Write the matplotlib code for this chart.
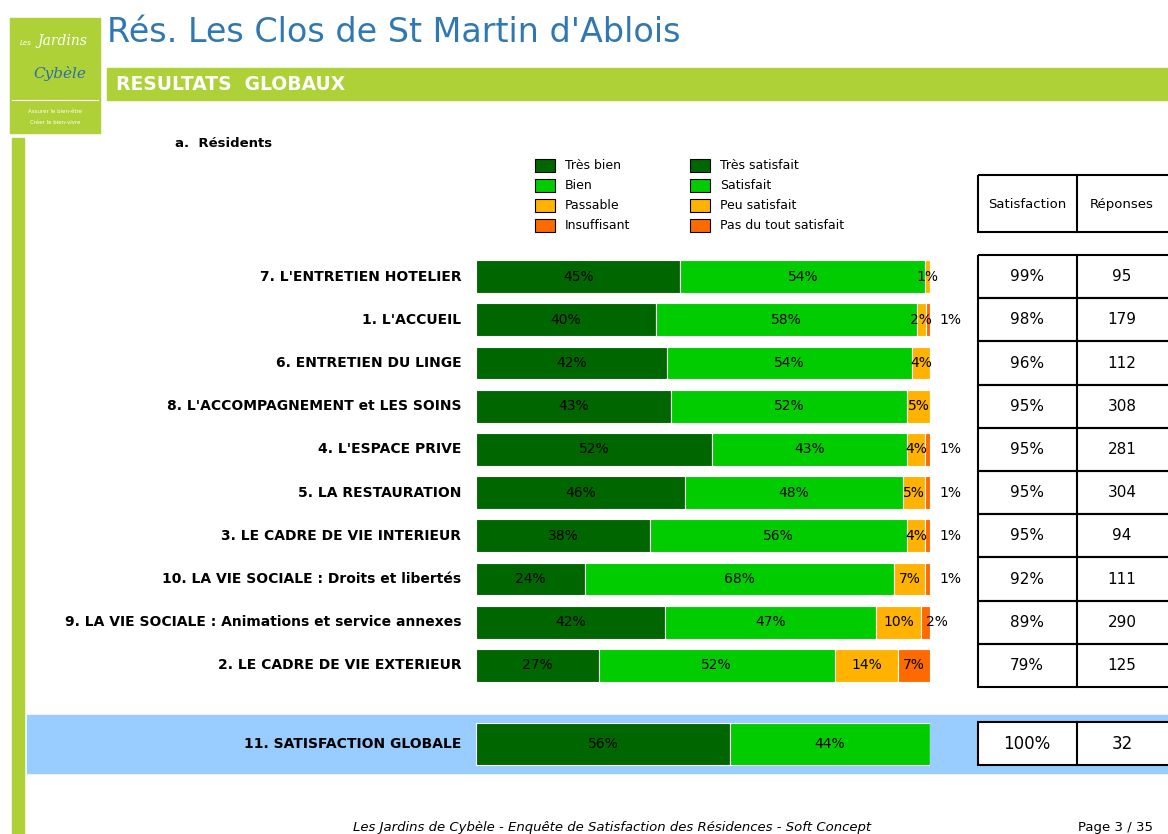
import matplotlib
matplotlib.use("Agg")
import matplotlib.pyplot as plt
from matplotlib.patches import Rectangle
import numpy as np

# data
categories = [
    "7. L'ENTRETIEN HOTELIER",
    "1. L'ACCUEIL",
    "6. ENTRETIEN DU LINGE",
    "8. L'ACCOMPAGNEMENT et LES SOINS",
    "4. L'ESPACE PRIVE",
    "5. LA RESTAURATION",
    "3. LE CADRE DE VIE INTERIEUR",
    "10. LA VIE SOCIALE : Droits et libertés",
    "9. LA VIE SOCIALE : Animations et service annexes",
    "2. LE CADRE DE VIE EXTERIEUR",
]
tres_bien = [45, 40, 42, 43, 52, 46, 38, 24, 42, 27]
bien = [54, 58, 54, 52, 43, 48, 56, 68, 47, 52]
passable = [1, 2, 4, 5, 4, 5, 4, 7, 10, 14]
insuffisant = [0, 1, 0, 0, 1, 1, 1, 1, 2, 7]
satisfaction = ["99%", "98%", "96%", "95%", "95%", "95%", "95%", "92%", "89%", "79%"]
reponses = ["95", "179", "112", "308", "281", "304", "94", "111", "290", "125"]

global_label = "11. SATISFACTION GLOBALE"
global_values = [56, 44, 0, 0]
global_sat = "100%"
global_rep = "32"

legend_left = ["Très bien", "Bien", "Passable", "Insuffisant"]
legend_right = ["Très satisfait", "Satisfait", "Peu satisfait", "Pas du tout satisfait"]
colors = ["#006600", "#00cc00", "#ffb300", "#ff6a00"]

W, H = 1168, 834
fig = plt.figure(figsize=(W / 100, H / 100), dpi=100)
plt.rcParams['font.family'] = ['DejaVu Sans']

# background axes in pixel units for the page decoration
bg = fig.add_axes([0, 0, 1, 1])
bg.set_xlim(0, W)
bg.set_ylim(H, 0)
bg.axis('off')

lime = "#add136"
# logo
bg.add_patch(Rectangle((10, 18), 90, 115, color=lime))
bg.plot([12, 98], [100, 100], color="white", lw=0.8)
bg.text(20, 45, "Les", fontsize=5, color="white", style="italic")
bg.text(62, 45, "Jardins", fontsize=10, color="white", style="italic", ha="center",
        family="DejaVu Serif")
bg.text(60, 78, "Cybèle", fontsize=11, color="#2d6fa8", style="italic", ha="center",
        family="DejaVu Serif")
bg.text(55, 113, "Assurer le bien-être", fontsize=4, color="white", ha="center")
bg.text(55, 124, "Créer le bien-vivre", fontsize=4, color="white", ha="center")
bg.add_patch(Rectangle((12, 138), 12, H - 138, color=lime))

# title and band
bg.text(107, 32, "Rés. Les Clos de St Martin d'Ablois", fontsize=24, color="#2f78b4",
        va="center", ha="left")
bg.add_patch(Rectangle((107, 68), W - 107, 32, color=lime))
bg.text(116, 84, "RESULTATS  GLOBAUX", fontsize=13.5, color="white", weight="bold",
        va="center")
bg.text(175, 143, "a.  Résidents", fontsize=9.5, weight="bold", va="center")

# legend
for i in range(4):
    y = 165 + i * 20
    bg.add_patch(Rectangle((535, y - 6), 20, 13, facecolor=colors[i], edgecolor="black", lw=0.8))
    bg.text(565, y, legend_left[i], fontsize=9, va="center")
    bg.add_patch(Rectangle((690, y - 6), 20, 13, facecolor=colors[i], edgecolor="black", lw=0.8))
    bg.text(720, y, legend_right[i], fontsize=9, va="center")

# table header
bg.add_patch(Rectangle((978, 175), 210, 57, fill=False, edgecolor="black", lw=1.5))
bg.plot([1077, 1077], [175, 232], color="black", lw=1.5)
bg.text(1027, 204, "Satisfaction", fontsize=9.5, ha="center", va="center")
bg.text(1122, 204, "Réponses", fontsize=9.5, ha="center", va="center")

# table body
row_h = 43.2
top = 252
for i in range(len(categories)):
    y0 = top + i * row_h + 3
    bg.add_patch(Rectangle((978, y0), 210, row_h, fill=False, edgecolor="black", lw=1.5))
    bg.text(1027, y0 + row_h / 2, satisfaction[i], fontsize=11, ha="center", va="center")
    bg.text(1122, y0 + row_h / 2, reponses[i], fontsize=11, ha="center", va="center")
bg.plot([1077, 1077], [top + 3, top + 3 + 10 * row_h], color="black", lw=1.5)

# global satisfaction band
bg.add_patch(Rectangle((27, 715), W - 27, 58, color="#99ccff"))
bg.add_patch(Rectangle((978, 722), 210, 43, facecolor="white", edgecolor="black", lw=1.5))
bg.plot([1077, 1077], [722, 765], color="black", lw=1.5)
bg.text(1027, 744, global_sat, fontsize=12, ha="center", va="center")
bg.text(1122, 744, global_rep, fontsize=12, ha="center", va="center")

# footer
bg.text(612, 827, "Les Jardins de Cybèle - Enquête de Satisfaction des Résidences - Soft Concept",
        fontsize=9.5, style="italic", ha="center", va="center")
bg.text(1078, 827, "Page 3 / 35", fontsize=9.5, ha="left", va="center")


def stacked(ax, rows, labels_on_right):
    data = np.array(rows, dtype=float)
    shares = data / data.sum(axis=1, keepdims=True) * 100
    y = np.arange(len(rows))
    left = np.zeros(len(rows))
    for k in range(4):
        ax.barh(y, shares[:, k], left=left, height=0.76, color=colors[k],
                edgecolor="white", lw=0.8)
        for j in range(len(rows)):
            v = data[j, k]
            if v <= 0:
                continue
            cx = left[j] + shares[j, k] / 2
            if k == 3 and labels_on_right:
                # tiny last segments get their label pushed to the right
                if v <= 1:
                    cx = 104.5
                elif v <= 2:
                    cx = 101.5
            ax.text(cx, y[j], f"{int(v)}%", ha="center", va="center", fontsize=10)
        left += shares[:, k]
    ax.set_xlim(0, 100)
    ax.axis('off')


rows = list(zip(tres_bien, bien, passable, insuffisant))
ax = fig.add_axes([476 / W, 1 - (top + 3 + 10 * row_h) / H, 454 / W, 10 * row_h / H])
stacked(ax, rows, True)
ax.set_ylim(9.5, -0.5)
for i, cat in enumerate(categories):
    ax.text(-3.2, i, cat, ha="right", va="center", fontsize=10, weight="bold")

ax2 = fig.add_axes([476 / W, 1 - 772 / H, 454 / W, 56 / H])
stacked(ax2, [global_values], False)
ax2.set_ylim(0.5, -0.5)
ax2.text(-3.2, 0, global_label, ha="right", va="center", fontsize=10, weight="bold")

fig.savefig("out.png", dpi=100)
